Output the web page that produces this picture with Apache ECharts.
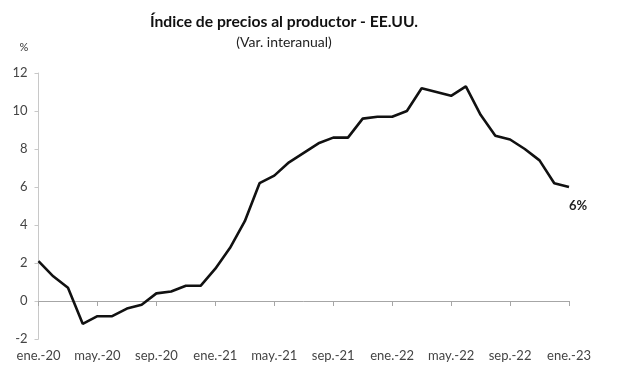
<!DOCTYPE html>
<html>
<head>
<meta charset="utf-8">
<script src="https://cdn.jsdelivr.net/npm/echarts@6/dist/echarts.min.js"></script>
<style>html,body{margin:0;padding:0;background:#fff}#c{width:617px;height:391px}</style>
</head>
<body>
<div id="c"></div>
<script>
const FONT = 'Lato, "Liberation Sans", sans-serif';
const titleText = 'Índice de precios al productor - EE.UU.';
const subtitleText = '(Var. interanual)';
const unitText = '%';
const lastLabel = '6%';
const categories = [
  'ene.-20','feb.-20','mar.-20','abr.-20','may.-20','jun.-20','jul.-20','ago.-20','sep.-20','oct.-20','nov.-20','dic.-20',
  'ene.-21','feb.-21','mar.-21','abr.-21','may.-21','jun.-21','jul.-21','ago.-21','sep.-21','oct.-21','nov.-21','dic.-21',
  'ene.-22','feb.-22','mar.-22','abr.-22','may.-22','jun.-22','jul.-22','ago.-22','sep.-22','oct.-22','nov.-22','dic.-22',
  'ene.-23'
];
const ppiValues = [
  2.1, 1.3, 0.7, -1.2, -0.8, -0.8, -0.4, -0.2, 0.4, 0.5, 0.8, 0.8,
  1.7, 2.8, 4.2, 6.2, 6.6, 7.3, 7.8, 8.3, 8.6, 8.6, 9.6, 9.7,
  9.7, 10.0, 11.2, 11.0, 10.8, 11.3, 9.8, 8.7, 8.5, 8.0, 7.4, 6.2,
  6.0
];
const yTicks = { min: -2, max: 12, interval: 2 };

const lastIdx = ppiValues.length - 1;

const chart = echarts.init(document.getElementById('c'), null, { renderer: 'canvas' });
chart.setOption({
  animation: false,
  backgroundColor: '#fff',
  grid: { left: 38.5, right: 48, top: 73, bottom: 52, containLabel: false },
  graphic: [
    { type: 'text', x: 284, y: 21.5, style: { text: titleText, font: 'bold 15.7px ' + FONT, fill: '#111', align: 'center', verticalAlign: 'middle' } },
    { type: 'text', x: 284, y: 42, style: { text: subtitleText, font: '14px ' + FONT, fill: '#222', align: 'center', verticalAlign: 'middle' } },
    { type: 'text', x: 24, y: 47, style: { text: unitText, font: '11px ' + FONT, fill: '#333', align: 'center', verticalAlign: 'middle' } }
  ],
  xAxis: [
    {
      type: 'category', data: categories, boundaryGap: false,
      axisLine: { onZero: true, lineStyle: { color: '#a6a6a6', width: 1 } },
      axisTick: { show: true, interval: 3, length: 5, lineStyle: { color: '#a6a6a6' } },
      axisLabel: { show: false },
      splitLine: { show: false }
    },
    {
      type: 'category', data: categories, boundaryGap: false, position: 'bottom',
      axisLine: { show: false, onZero: false },
      axisTick: { show: false },
      axisLabel: { show: true, interval: 3, margin: 10, fontFamily: FONT, fontSize: 13, color: '#444' },
      splitLine: { show: false }
    }
  ],
  yAxis: {
    type: 'value', min: yTicks.min, max: yTicks.max, interval: yTicks.interval,
    axisLine: { show: true, lineStyle: { color: '#c8c8c8' } },
    axisTick: { show: true, length: 4, lineStyle: { color: '#c8c8c8' } },
    axisLabel: { margin: 11, fontFamily: FONT, fontSize: 13, color: '#444' },
    splitLine: { show: false }
  },
  series: [{
    type: 'line', xAxisIndex: 0, data: ppiValues,
    symbol: 'none', smooth: false,
    lineStyle: { color: '#111', width: 2.6 },
    z: 5,
    markPoint: {
      symbol: 'circle', symbolSize: 0, silent: true,
      data: [{ coord: [lastIdx, ppiValues[lastIdx]] }],
      label: { show: true, formatter: lastLabel, position: 'bottom', distance: 0, offset: [9, 12],
        fontFamily: FONT, fontWeight: 'bold', fontSize: 13, color: '#222' }
    }
  }]
});
</script>
</body>
</html>
